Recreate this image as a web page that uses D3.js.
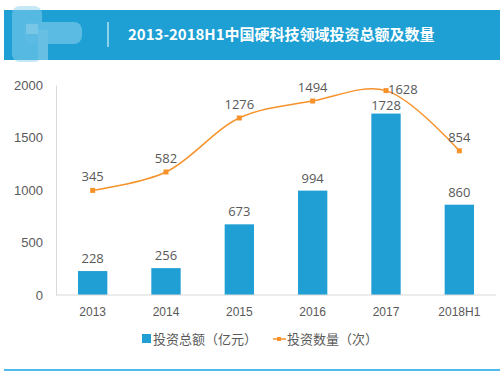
<!DOCTYPE html>
<html>
<head>
<meta charset="utf-8">
<script src="https://cdn.jsdelivr.net/npm/d3@7"></script>
<style>
  body { margin: 0; background: #fff; }
  svg { display: block; font-family: "Open Sans", "Noto Sans CJK SC", sans-serif; }
</style>
</head>
<body>
<svg width="500" height="377"></svg>
<script>
var years = ["2013", "2014", "2015", "2016", "2017", "2018H1"];
var amount = [228, 256, 673, 994, 1728, 860];     // 投资总额（亿元）
var count = [345, 582, 1276, 1494, 1628, 854];   // 投资数量（次）
var yTicks = [0, 500, 1000, 1500, 2000];

var svg = d3.select("svg"),
    width = +svg.attr("width"),
    height = +svg.attr("height");

var blue = "#1f9fd3", orange = "#f7922a", grey = "#595959";

// header band
svg.append("rect").attr("x", 4).attr("y", 10).attr("width", width - 4).attr("height", 50)
    .attr("fill", "#1ea0d4");
// blurred logo
var logo = svg.append("g").attr("opacity", 0.5);
logo.append("rect").attr("x", 12).attr("y", 6).attr("width", 30).attr("height", 56).attr("rx", 8).attr("fill", "#8fd2ef");
logo.append("rect").attr("x", 24).attr("y", 22).attr("width", 58).attr("height", 22).attr("rx", 8).attr("fill", "#9ad6f0");
logo.append("rect").attr("x", 26).attr("y", 24).attr("width", 12).attr("height", 10).attr("fill", "#d4eef9");
logo.append("rect").attr("x", 38).attr("y", 30).attr("width", 10).attr("height", 30).attr("fill", "#b0def3");
svg.append("line").attr("x1", 108).attr("x2", 108).attr("y1", 22).attr("y2", 47)
    .attr("stroke", "#fff").attr("stroke-width", 1);
svg.append("text").attr("x", 128).attr("y", 40)
    .attr("fill", "#fff").attr("font-size", 15).attr("font-weight", "bold")
    .attr("font-family", "'Noto Sans CJK SC', sans-serif")
    .text("2013-2018H1中国硬科技领域投资总额及数量");

// scales
var x = d3.scaleBand().domain(years).range([56, 496]).paddingInner(0.6).paddingOuter(0.3);
var y = d3.scaleLinear().domain([0, 2000]).range([295, 85]);
var y2 = d3.scaleLinear().domain([-1000, 1700]).range([295, 85]); // hidden secondary axis

// y axis
var yAxis = svg.append("g").attr("transform", "translate(56,0)")
    .call(d3.axisLeft(y).tickValues(yTicks).tickFormat(d3.format("d")).tickSize(0).tickPadding(13));
yAxis.select(".domain").attr("stroke", "#d9d9d9");
yAxis.selectAll("text").attr("fill", grey).attr("font-size", 13);

// bars
svg.selectAll(".bar").data(amount).enter().append("rect")
    .attr("class", "bar")
    .attr("x", function (d, i) { return x(years[i]); })
    .attr("y", function (d) { return y(d); })
    .attr("width", x.bandwidth())
    .attr("height", function (d) { return y(0) - y(d); })
    .attr("fill", blue);

svg.selectAll(".barlabel").data(amount).enter().append("text")
    .attr("x", function (d, i) { return x(years[i]) + x.bandwidth() / 2; })
    .attr("y", function (d, i) { return y(d) - (i == 4 ? 4 : 8); })
    .attr("text-anchor", "middle").attr("fill", grey).attr("font-size", 13)
    .text(function (d) { return d; });

// x axis
var xAxis = svg.append("g").attr("transform", "translate(0,295)")
    .call(d3.axisBottom(x).tickSize(0).tickPadding(12));
xAxis.select(".domain").attr("stroke", "#d9d9d9").attr("d", "M56,0H496");
xAxis.selectAll("text").attr("fill", grey).attr("font-size", 12);

// line
var cx = function (d, i) { return x(years[i]) + x.bandwidth() / 2; };
var line = d3.line().x(cx).y(function (d) { return y2(d); }).curve(d3.curveCatmullRom.alpha(0.5));
svg.append("path").datum(count).attr("d", line)
    .attr("fill", "none").attr("stroke", orange).attr("stroke-width", 1.5);
svg.selectAll(".pt").data(count).enter().append("rect")
    .attr("x", function (d, i) { return cx(d, i) - 2.5; })
    .attr("y", function (d) { return y2(d) - 2.5; })
    .attr("width", 5).attr("height", 5).attr("fill", orange);
svg.selectAll(".ptlabel").data(count).enter().append("text")
    .attr("x", function (d, i) { return i == 4 ? cx(d, i) + 2 : cx(d, i); })
    .attr("y", function (d, i) { return i == 4 ? y2(d) + 3 : y2(d) - 9; })
    .attr("text-anchor", function (d, i) { return i == 4 ? "start" : "middle"; })
    .attr("fill", grey).attr("font-size", 13)
    .text(function (d) { return d; });

// legend
var lg = svg.append("g").attr("font-size", 13).attr("fill", grey)
    .attr("font-family", "'Noto Sans CJK SC', sans-serif");
lg.append("rect").attr("x", 142).attr("y", 334).attr("width", 9).attr("height", 9).attr("fill", blue);
lg.append("text").attr("x", 153).attr("y", 344).text("投资总额（亿元）");
lg.append("line").attr("x1", 273).attr("x2", 286).attr("y1", 339).attr("y2", 339)
    .attr("stroke", orange).attr("stroke-width", 1.5);
lg.append("rect").attr("x", 277).attr("y", 337).attr("width", 4).attr("height", 4).attr("fill", orange);
lg.append("text").attr("x", 287).attr("y", 344).text("投资数量（次）");

// bottom rule
svg.append("line").attr("x1", 4).attr("x2", width).attr("y1", 370).attr("y2", 370)
    .attr("stroke", "#4fbbea").attr("stroke-width", 2);
</script>
</body>
</html>
